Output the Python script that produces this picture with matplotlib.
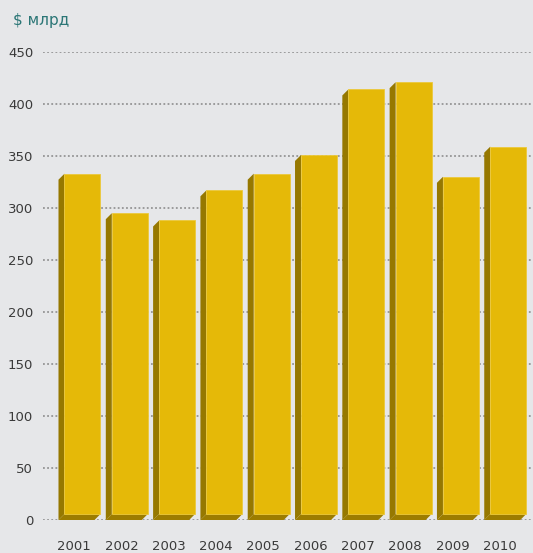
import matplotlib
matplotlib.use("Agg")
import matplotlib.pyplot as plt
from matplotlib.patches import Polygon

# values ($ bn)
years = ["2001", "2002", "2003", "2004", "2005", "2006", "2007", "2008", "2009", "2010"]
values = [333, 295, 288, 317, 333, 351, 414, 421, 330, 359]
yticks = [0, 50, 100, 150, 200, 250, 300, 350, 400, 450]

bg = "#e6e7e9"
front = "#e5b908"
side = "#967800"
bottom_col = "#9c7c00"

fig = plt.figure(figsize=(5.33, 5.53), dpi=100, facecolor=bg)
ax = fig.add_axes([43 / 533, 1 - 520 / 553, 490 / 533, 468 / 553])
ax.set_facecolor(bg)

xmin, xmax = -0.708, 9.65
ax.set_xlim(xmin, xmax)
ax.set_ylim(0, 450)

# 3d depth offset in data units (about 6 px each way)
px_x = (xmax - xmin) / 490
px_y = 450 / 468
dx = 6 * px_x
dy = 6 * px_y
w = 36 * px_x

for i, v in enumerate(values):
    L = i - w / 2
    R = i + w / 2
    # side face
    ax.add_patch(Polygon([(L, 0), (L, v - dy), (L + dx, v), (L + dx, dy)],
                         closed=True, facecolor=side, edgecolor="none", zorder=3))
    # bottom face
    ax.add_patch(Polygon([(L, 0), (L + dx, dy), (R + dx, dy), (R, 0)],
                         closed=True, facecolor=bottom_col, edgecolor="none", zorder=3))

# front faces
xs = [i + dx for i in range(len(values))]
ax.bar(xs, [v - dy for v in values], bottom=dy, width=w, color=front,
       edgecolor="#ecc93c", linewidth=0.6, zorder=4)

ax.set_yticks(yticks)
ax.set_yticklabels([str(t) for t in yticks], fontsize=9.5, color="#3a3a3a")
ax.tick_params(axis="y", length=0, pad=7)
ax.set_xticks([])
for s in ax.spines.values():
    s.set_visible(False)

for t in yticks:
    ax.axhline(t, color="#959595", linestyle=(0, (1, 1.3)), linewidth=1.3, zorder=1)

# year labels under the bars
for i, y in enumerate(years):
    ax.text(i - 0.05, -19, y, ha="center", va="top", fontsize=9.5, color="#3a3a3a")

fig.text(13 / 533, 1 - 20 / 553, "$ млрд", ha="left", va="center", fontsize=11, color="#2b7676")

fig.savefig("out.png", dpi=100, facecolor=bg)
